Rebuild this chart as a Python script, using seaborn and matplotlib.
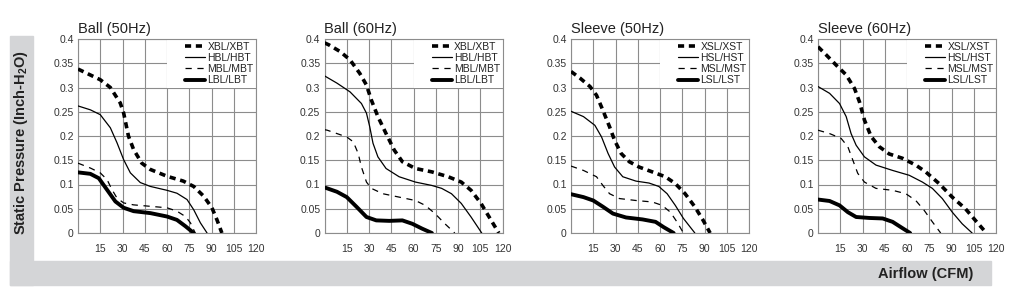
import matplotlib
matplotlib.use("Agg")
import matplotlib.pyplot as plt
from matplotlib.patches import Rectangle
import seaborn as sns

# panel titles and legend labels
titles = ["Ball (50Hz)", "Ball (60Hz)", "Sleeve (50Hz)", "Sleeve (60Hz)"]
ball_labels = ["XBL/XBT", "HBL/HBT", "MBL/MBT", "LBL/LBT"]
sleeve_labels = ["XSL/XST", "HSL/HST", "MSL/MST", "LSL/LST"]

x_ticks = [0, 15, 30, 45, 60, 75, 90, 105, 120]
x_ticklabels = ["", "15", "30", "45", "60", "75", "90", "105", "120"]
y_ticks = [0, 0.05, 0.1, 0.15, 0.2, 0.25, 0.3, 0.35, 0.4]
y_ticklabels = ["0", "0.05", "0.1", "0.15", "0.2", "0.25", "0.3", "0.35", "0.4"]

# Ball (50Hz)
b50_x_cfm = [0, 15, 21.8, 28.5, 30.8, 34, 37.5, 43, 48.8, 60, 71, 78, 84.7, 90.3, 93.7, 97]
b50_x_p = [0.338, 0.316, 0.300, 0.268, 0.247, 0.200, 0.172, 0.144, 0.131, 0.117, 0.107, 0.096, 0.076, 0.052, 0.027, 0.0]
b50_h_cfm = [0, 8.3, 15, 21.8, 26.3, 30.8, 35.3, 42, 48.8, 60, 66.7, 73.5, 78, 82.5, 87]
b50_h_p = [0.262, 0.254, 0.244, 0.217, 0.186, 0.151, 0.124, 0.104, 0.096, 0.088, 0.082, 0.069, 0.048, 0.021, 0.0]
b50_m_cfm = [0, 8.3, 15, 19.6, 23, 26.3, 30.8, 37.5, 48.8, 60, 66.7, 72.4, 75.8, 79]
b50_m_p = [0.144, 0.134, 0.124, 0.110, 0.089, 0.072, 0.062, 0.058, 0.055, 0.052, 0.045, 0.034, 0.021, 0.0]
b50_l_cfm = [0, 8.3, 14, 19.6, 25.2, 30.8, 37.5, 48.8, 60, 66.7, 72.4, 78]
b50_l_p = [0.125, 0.122, 0.113, 0.089, 0.065, 0.052, 0.045, 0.041, 0.034, 0.027, 0.014, 0.0]

# Ball (60Hz)
b60_x_cfm = [0, 2.9, 10.6, 17.2, 23.8, 28.3, 31.6, 36, 41.5, 47, 52.5, 61.3, 72.4, 83.4, 92.2, 98.8, 105.5, 111, 117.5]
b60_x_p = [0.392, 0.388, 0.374, 0.357, 0.329, 0.305, 0.274, 0.240, 0.205, 0.171, 0.147, 0.133, 0.126, 0.116, 0.105, 0.088, 0.061, 0.033, 0.0]
b60_h_cfm = [0, 8.4, 17.2, 24.9, 28.3, 30.5, 32.7, 36, 41.5, 50.3, 61.3, 72.4, 79, 85.6, 92.2, 98.8, 106]
b60_h_p = [0.324, 0.309, 0.291, 0.267, 0.247, 0.219, 0.185, 0.157, 0.133, 0.116, 0.105, 0.098, 0.092, 0.081, 0.061, 0.033, 0.0]
b60_m_cfm = [0, 1.8, 8.4, 15, 19.4, 22.7, 24.9, 28.3, 31.6, 39.3, 50.3, 61.3, 67.9, 74.5, 81.2, 87.8]
b60_m_p = [0.213, 0.212, 0.205, 0.198, 0.188, 0.164, 0.136, 0.105, 0.092, 0.081, 0.074, 0.067, 0.057, 0.040, 0.019, 0.0]
b60_l_cfm = [0, 8.4, 15, 21.6, 28.3, 34.9, 43.7, 52.5, 59.2, 65.8, 72.4]
b60_l_p = [0.094, 0.085, 0.074, 0.054, 0.033, 0.026, 0.025, 0.026, 0.019, 0.009, 0.0]

# Sleeve (50Hz)
s50_x_cfm = [0, 6.2, 12.8, 17.2, 21.5, 26, 29.4, 33.8, 39.3, 45.9, 54.8, 63.6, 70.3, 76.9, 83.5, 89.1, 93.8]
s50_x_p = [0.333, 0.319, 0.302, 0.284, 0.253, 0.219, 0.191, 0.164, 0.147, 0.136, 0.126, 0.116, 0.102, 0.081, 0.054, 0.026, 0.0]
s50_h_cfm = [0, 8.4, 16.1, 20.6, 25, 29.4, 34.9, 43.8, 52.6, 59.2, 64.8, 70.3, 75.8, 83.5]
s50_h_p = [0.251, 0.240, 0.222, 0.198, 0.164, 0.136, 0.116, 0.107, 0.103, 0.096, 0.081, 0.057, 0.030, 0.0]
s50_m_cfm = [0, 8.4, 17.2, 21.5, 26, 32.7, 43.8, 54.8, 61.4, 67, 71.4, 75.8]
s50_m_p = [0.138, 0.129, 0.116, 0.098, 0.081, 0.071, 0.067, 0.064, 0.057, 0.043, 0.023, 0.0]
s50_l_cfm = [0, 8.4, 15, 21.6, 28.3, 37.1, 48.2, 57, 62.5, 69.2]
s50_l_p = [0.080, 0.074, 0.067, 0.054, 0.040, 0.032, 0.028, 0.023, 0.012, 0.0]

# Sleeve (60Hz)
s60_x_cfm = [0, 5.6, 12.3, 19, 24.6, 27.9, 31.3, 35.8, 41.3, 48, 57, 65.9, 72.6, 81.6, 90.5, 99.4, 106.1, 113.5]
s60_x_p = [0.384, 0.367, 0.346, 0.326, 0.298, 0.271, 0.233, 0.199, 0.178, 0.163, 0.154, 0.140, 0.126, 0.102, 0.074, 0.050, 0.026, 0.0]
s60_h_cfm = [0, 7.8, 14.5, 19, 22.3, 25.7, 31.3, 39.1, 50.3, 61.5, 70.4, 77.1, 83.8, 90.5, 97.2, 103.9]
s60_h_p = [0.302, 0.288, 0.267, 0.240, 0.205, 0.181, 0.157, 0.140, 0.129, 0.119, 0.105, 0.092, 0.071, 0.043, 0.019, 0.0]
s60_m_cfm = [0, 7.8, 15.6, 20.1, 23.5, 26.8, 31.3, 39.1, 50.3, 59.2, 65.9, 71.5, 77.1, 82.7]
s60_m_p = [0.212, 0.205, 0.195, 0.178, 0.150, 0.123, 0.105, 0.092, 0.088, 0.081, 0.067, 0.047, 0.023, 0.0]
s60_l_cfm = [0, 7.8, 14.5, 20.1, 25.7, 34.6, 43.6, 50.3, 55.9, 62.1]
s60_l_p = [0.069, 0.066, 0.057, 0.043, 0.033, 0.031, 0.030, 0.023, 0.012, 0.0]

panels = [
    [(b50_x_cfm, b50_x_p), (b50_h_cfm, b50_h_p), (b50_m_cfm, b50_m_p), (b50_l_cfm, b50_l_p)],
    [(b60_x_cfm, b60_x_p), (b60_h_cfm, b60_h_p), (b60_m_cfm, b60_m_p), (b60_l_cfm, b60_l_p)],
    [(s50_x_cfm, s50_x_p), (s50_h_cfm, s50_h_p), (s50_m_cfm, s50_m_p), (s50_l_cfm, s50_l_p)],
    [(s60_x_cfm, s60_x_p), (s60_h_cfm, s60_h_p), (s60_m_cfm, s60_m_p), (s60_l_cfm, s60_l_p)],
]
panel_labels = [ball_labels, ball_labels, sleeve_labels, sleeve_labels]

# X (thick dashed), H (thin), M (thin dashed), L (thick)
line_styles = [
    dict(lw=2.6, ls=(0, (1.7, 1.3))),
    dict(lw=0.9, ls="-"),
    dict(lw=0.9, ls=(0, (5, 4.5))),
    dict(lw=2.8, ls="-"),
]

sns.set_theme(style="white")
plt.rcParams["font.family"] = ["Liberation Sans", "DejaVu Sans"]
plt.rcParams["mathtext.fontset"] = "custom"
plt.rcParams["mathtext.rm"] = "Liberation Sans"
plt.rcParams["mathtext.bf"] = "Liberation Sans:bold"

fig = plt.figure(figsize=(10.1, 3), dpi=100)

# grey frame bands behind the axis labels
band = "#d4d5d7"
fig.patches.append(Rectangle((10 / 1010, 15 / 300), 23 / 1010, 249 / 300,
                             transform=fig.transFigure, color=band, zorder=0))
fig.patches.append(Rectangle((10 / 1010, 15 / 300), 981 / 1010, 24 / 300,
                             transform=fig.transFigure, color=band, zorder=0))

lefts = [78, 324.5, 571, 818]
for i, left in enumerate(lefts):
    ax = fig.add_axes([left / 1010, 67 / 300, 178 / 1010, 194 / 300])
    ax.set_xlim(0, 120)
    ax.set_ylim(0, 0.4)
    ax.set_xticks(x_ticks)
    ax.set_xticklabels(x_ticklabels)
    ax.set_yticks(y_ticks)
    ax.set_yticklabels(y_ticklabels)
    ax.tick_params(axis="both", length=0, labelsize=7.5, colors="#333333")
    ax.tick_params(axis="x", pad=8)
    ax.tick_params(axis="y", pad=3)
    ax.grid(True, color="#8c8c8c", lw=0.8)
    ax.set_axisbelow(True)
    for s in ax.spines.values():
        s.set_color("#8c8c8c")
        s.set_linewidth(0.8)

    # white area behind the legend hides the grid there
    ax.add_patch(Rectangle((0.5, 0.75), 0.5, 0.25, transform=ax.transAxes,
                           facecolor="white", edgecolor="none", zorder=1.5))

    for (cfm, p), st, lab in zip(panels[i], line_styles, panel_labels[i]):
        sns.lineplot(x=cfm, y=p, ax=ax, color="black", lw=st["lw"],
                     linestyle=st["ls"], label=lab, zorder=3)

    ax.set_xlabel("")
    ax.set_ylabel("")
    ax.set_title(titles[i], loc="left", fontsize=10.5, pad=4, color="#222222")
    leg = ax.legend(loc="upper right", frameon=False, fontsize=7.5,
                    handlelength=1.9, handletextpad=0.2, labelspacing=0.12,
                    borderaxespad=0.1, borderpad=0.15)
    for t in leg.get_texts():
        t.set_color("#222222")

fig.text(21.5 / 1010, 157 / 300, r"Static Pressure (Inch-H$_\mathbf{2}$O)",
         rotation=90, ha="center", va="center", fontsize=10.5,
         fontweight="bold", color="#222222")
fig.text(973 / 1010, 26 / 300, "Airflow (CFM)", ha="right", va="center",
         fontsize=10.5, fontweight="bold", color="#222222")

plt.savefig("out.png", dpi=100)
